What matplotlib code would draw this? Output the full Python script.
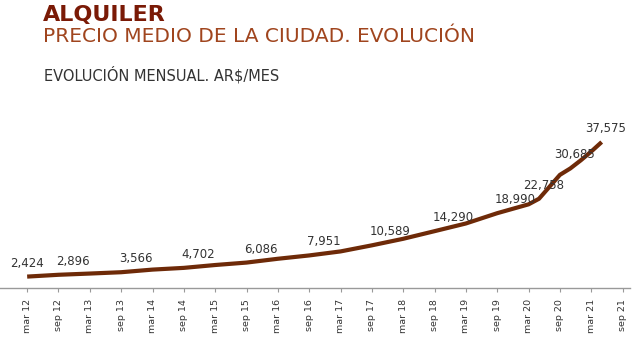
import matplotlib
matplotlib.use("Agg")
import matplotlib.pyplot as plt

# months since Mar 2012
months = [0, 6, 12, 18, 24, 30, 36, 42, 48, 54, 60, 66, 72, 78, 84, 90, 96, 98, 102, 104, 106, 108, 110]
values = [2424, 2896, 3220, 3566, 4250, 4702, 5450, 6086, 7080, 7951, 9000, 10589,
          12300, 14290, 16300, 18990, 21300, 22758, 29000, 30685, 32800, 35100, 37575]

label_months = [0, 6, 18, 30, 42, 54, 66, 78, 90, 98, 104, 110]
label_values = [2424, 2896, 3566, 4702, 6086, 7951, 10589, 14290, 18990, 22758, 30685, 37575]

tick_months = list(range(0, 115, 6))
tick_labels = ["mar 12", "sep 12", "mar 13", "sep 13", "mar 14", "sep 14", "mar 15", "sep 15",
               "mar 16", "sep 16", "mar 17", "sep 17", "mar 18", "sep 18", "mar 19", "sep 19",
               "mar 20", "sep 20", "mar 21", "sep 21"]

line_color = "#6e2a08"
text_color = "#333333"

fig = plt.figure(figsize=(6.4, 3.38), dpi=100)
ax = fig.add_axes([0.0, 0.148, 0.985, 0.56])

ax.plot(months, values, color=line_color, lw=3.0, solid_capstyle="butt", solid_joinstyle="round")

for m, v in zip(label_months, label_values):
    txt = f"{v:,}"
    if m == 0:
        ax.annotate(txt, (m, v), xytext=(0, 5), textcoords="offset points",
                    ha="center", va="bottom", fontsize=8.5, color=text_color)
    elif m >= 98:
        ax.annotate(txt, (m, v), xytext=(3, 5), textcoords="offset points",
                    ha="center", va="bottom", fontsize=8.5, color=text_color)
    else:
        ax.annotate(txt, (m, v), xytext=(-1.5, 5), textcoords="offset points",
                    ha="left", va="bottom", fontsize=8.5, color=text_color)

ax.set_xlim(-5.2, 115.5)
ax.set_ylim(-550, 48900)
ax.set_xticks(tick_months)
ax.set_xticklabels(tick_labels, rotation=90, fontsize=6.8, color=text_color)
ax.set_yticks([])
for s in ["top", "right", "left"]:
    ax.spines[s].set_visible(False)
ax.spines["bottom"].set_color("#999999")
ax.spines["bottom"].set_linewidth(1.0)
ax.tick_params(axis="x", direction="out", length=3, width=0.8, color="#999999", pad=5)

fig.text(43/640, 1 - 5/338, "ALQUILER", fontsize=16, fontweight="bold", color="#7a1a06",
         ha="left", va="top")
fig.text(43/640, 1 - 27/338, "PRECIO MEDIO DE LA CIUDAD. EVOLUCIÓN", fontsize=14.5,
         color="#a0451e", ha="left", va="top")
fig.text(44/640, 1 - 66/338, "EVOLUCIÓN MENSUAL. AR$/MES", fontsize=10.5,
         color="#333333", ha="left", va="top")

fig.savefig("out.png", dpi=100, facecolor="white")
